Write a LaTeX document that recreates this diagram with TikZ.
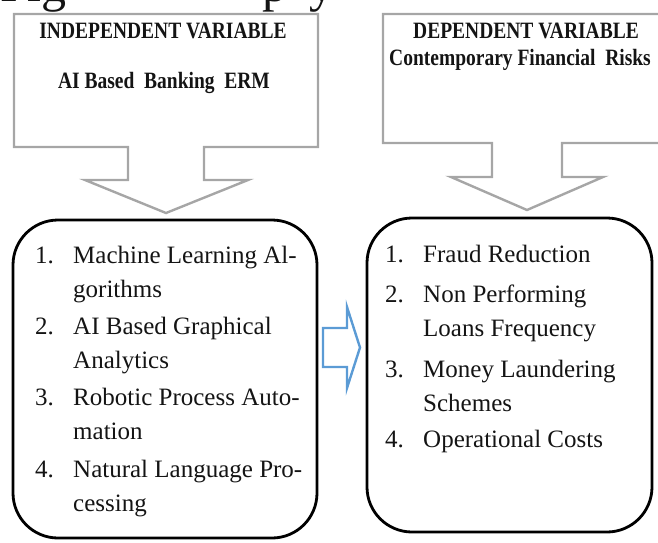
\documentclass[tikz,border=0pt]{standalone}
\usepackage{fontspec}
\setmainfont{Liberation Serif}
\definecolor{calloutgray}{HTML}{A6A6A6}
\definecolor{arrowblue}{HTML}{5B9BD5}
\definecolor{inkblack}{HTML}{141414}
\tikzset{
  callout/.style={draw=calloutgray, line width=2.4pt, line join=miter},
  listbox/.style={draw=black, line width=2.8pt, rounded corners=45pt, inner sep=0pt},
  headtext/.style={inner sep=0pt, text=inkblack, font=\fontsize{19.5}{22}\selectfont\bfseries},
  itemtext/.style={anchor=base west, inner sep=0pt, text=inkblack, font=\fontsize{25}{34.5}\selectfont},
  captiontext/.style={anchor=base west, inner sep=0pt, text=inkblack, font=\fontsize{50}{54}\selectfont},
  blockarrow/.style={draw=arrowblue, line width=2.4pt, line join=miter},
}
% numbered entry with a hanging second line
\newcommand{\entry}[2]{\begin{tabular}[t]{@{}p{38pt}@{}l@{}}#1&#2\end{tabular}}
% tall, narrow bold heading lettering
\newcommand{\tallhead}[1]{\scalebox{1}[1.2]{#1}}
\begin{document}
\begin{tikzpicture}[x=1pt,y=-1pt]
\useasboundingbox (0,0) rectangle (658,542);
\clip (0,0) rectangle (658,542);

% lower edge of the caption line above the figure
\node[captiontext] (capa) at (0,1) {Fig};
\node[captiontext] (capb) at (262,1) {p};
\node[captiontext] (capc) at (309,1) {y};

% independent-variable callout
\draw[callout] (14,14) -- (318,14) -- (318,147) -- (204,147) -- (204,180)
  -- (248,180) -- (166,213) -- (85,180) -- (128,180) -- (128,147) -- (14,147) -- cycle;
\node[headtext] (indephead) at (163,31) {\tallhead{INDEPENDENT VARIABLE}};
\node[headtext] (indepname) at (164,83) {\tallhead{AI Based\ \ Banking\ \ ERM}};

% dependent-variable callout
\draw[callout] (383,14) -- (672,14) -- (672,143) -- (562,143) -- (562,177)
  -- (603,177) -- (527,210) -- (451,177) -- (492,177) -- (492,143) -- (383,143) -- cycle;
\node[headtext] (dephead) at (526,31) {\tallhead{DEPENDENT VARIABLE}};
\node[headtext] (depname) at (520,60) {\tallhead{Contemporary Financial\ \ Risks}};

% list boxes
\node[listbox, minimum width=304pt, minimum height=318pt] (indepbox) at (165,379) {};
\node[listbox, minimum width=285pt, minimum height=314pt] (depbox) at (509.5,375) {};

% independent-variable items
\node[itemtext] (i1) at (35,263) {\entry{1.}{Machine Learning Al-\\ & gorithms}};
\node[itemtext] (i2) at (35,334) {\entry{2.}{AI Based Graphical\\ & Analytics}};
\node[itemtext] (i3) at (35,405) {\entry{3.}{Robotic Process Auto-\\ & mation}};
\node[itemtext] (i4) at (35,477) {\entry{4.}{Natural Language Pro-\\ & cessing}};

% dependent-variable items
\node[itemtext] (d1) at (385,262) {\entry{1.}{Fraud Reduction}};
\node[itemtext] (d2) at (385,302) {\entry{2.}{Non Performing\\ & Loans Frequency}};
\node[itemtext] (d3) at (385,377) {\entry{3.}{Money Laundering\\ & Schemes}};
\node[itemtext] (d4) at (385,447) {\entry{4.}{Operational Costs}};

% block arrow between the boxes
\draw[blockarrow] (323,328) -- (347,328) -- (347,307) -- (360,347.5)
  -- (347,388) -- (347,367) -- (323,367) -- cycle;
\end{tikzpicture}
\end{document}
